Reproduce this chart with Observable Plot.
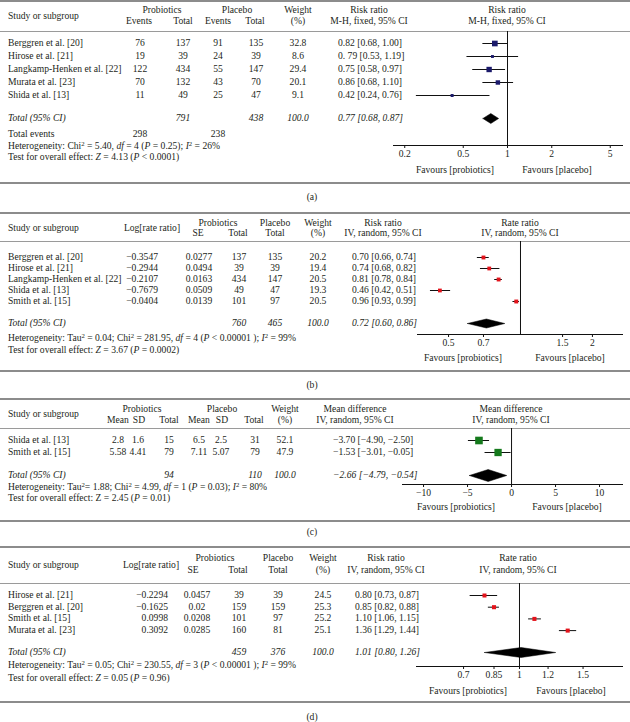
<!DOCTYPE html>
<html><head><meta charset="utf-8">
<script src="https://cdn.jsdelivr.net/npm/d3@7"></script>
<script src="https://cdn.jsdelivr.net/npm/@observablehq/plot@0.6"></script>
<style>
body{margin:0;background:#fff;}
#fig{position:relative;width:630px;height:722px;overflow:hidden;font-family:"Liberation Serif","DejaVu Serif",serif;font-size:9.6px;color:#231f20;}
.t{position:absolute;white-space:nowrap;line-height:1;}
.l{transform:translate(0,-50%);}
.c{transform:translate(-50%,-50%);}
.r{transform:translate(-100%,-50%);}
.i{font-style:italic;}
sup{font-size:0.7em;vertical-align:0.5em;line-height:0;}
.rule{position:absolute;left:0;width:630px;}
</style></head><body><div id="fig"></div>
<script>
// ---------- Panel (a) data ----------
const studiesA = ["Berggren et al. [20]","Hirose et al. [21]","Langkamp-Henken et al. [22]","Murata et al. [23]","Shida et al. [13]"];
const probEventsA = [76,19,122,70,11];
const probTotalA = [137,39,434,132,49];
const placEventsA = [91,24,55,43,25];
const placTotalA = [135,39,147,70,47];
const weightA = [32.8,8.6,29.4,20.1,9.1];
const rrA = [0.82,0.79,0.75,0.86,0.42];
const loA = [0.68,0.53,0.58,0.68,0.24];
const hiA = [1.00,1.19,0.97,1.10,0.76];
const ciTextA = ["0.82 [0.68, 1.00]","0. 79 [0.53, 1.19]","0.75 [0.58, 0.97]","0.86 [0.68, 1.10]","0.42 [0.24, 0.76]"];
const totalA = [0.77,0.68,0.87];
const ticksA = [0.2,0.5,1,2,5];

// ---------- Panel (b) data ----------
const studiesB = ["Berggren et al. [20]","Hirose et al. [21]","Langkamp-Henken et al. [22]","Shida et al. [13]","Smith et al. [15]"];
const logRRB = [-0.3547,-0.2944,-0.2107,-0.7679,-0.0404];
const seB = [0.0277,0.0494,0.0163,0.0509,0.0139];
const probTotalB = [137,39,434,49,101];
const placTotalB = [135,39,147,47,97];
const weightB = [20.2,19.4,20.5,19.3,20.5];
const rrB = [0.70,0.74,0.81,0.46,0.96];
const loB = [0.66,0.68,0.78,0.42,0.93];
const hiB = [0.74,0.82,0.84,0.51,0.99];
const totalB = [0.72,0.60,0.86];
const ticksB = [0.5,0.7,1.5,2];

// ---------- Panel (c) data ----------
const studiesC = ["Shida et al. [13]","Smith et al. [15]"];
const probMeanC = ["2.8","5.58"], probSDC = ["1.6","4.41"], probNC = [15,79];
const placMeanC = ["6.5","7.11"], placSDC = ["2.5","5.07"], placNC = [31,79];
const weightC = [52.1,47.9];
const mdC = [-3.70,-1.53];
const loC = [-4.90,-3.01];
const hiC = [-2.50,-0.05];
const totalC = [-2.66,-4.79,-0.54];
const ticksC = [-10,-5,0,5,10];

// ---------- Panel (d) data ----------
const studiesD = ["Hirose et al. [21]","Berggren et al. [20]","Smith et al. [15]","Murata et al. [23]"];
const logRRD = [-0.2294,-0.1625,0.0998,0.3092];
const seD = [0.0457,0.02,0.0208,0.0285];
const probTotalD = [39,159,101,160];
const placTotalD = [39,159,97,81];
const weightD = [24.5,25.3,25.2,25.1];
const rrD = [0.80,0.85,1.10,1.36];
const loD = [0.73,0.82,1.06,1.29];
const hiD = [0.87,0.88,1.15,1.44];
const totalD = [1.01,0.80,1.26];
const ticksD = [0.7,0.85,1,1.2,1.5];

// ---------- helpers ----------
const fig = document.getElementById("fig");
const FONT = '"Liberation Serif","DejaVu Serif",serif';
const m = v => String(v).replace("-", "\u2212");
const f2 = v => m(v.toFixed(2));
const ci = (e,l,h) => `${f2(e)} [${f2(l)}, ${f2(h)}]`;
function T(x, y, html, a = "c", extra = "") {
  const s = document.createElement("span");
  s.className = "t " + a + " " + extra;
  s.style.left = x + "px"; s.style.top = y + "px";
  s.innerHTML = html;
  fig.appendChild(s);
}
function rule(y, w, color) {
  const d = document.createElement("div");
  d.className = "rule";
  d.style.top = (y - w/2) + "px"; d.style.height = w + "px"; d.style.background = color;
  fig.appendChild(d);
}
function forest(o) {
  const H = o.axisY - o.headerY + 22;
  const r0 = o.rowY0 - o.headerY;
  const rows = o.est.map((e,i) => ({i, est: e, lo: o.lo[i], hi: o.hi[i], w: o.w[i]}));
  const ti = (o.totalY - o.rowY0) / o.step;
  const dh = o.dH / o.step;
  const [te, tl, th] = o.total;
  const diamond = [{x: tl, y: ti}, {x: te, y: ti - dh}, {x: th, y: ti}, {x: te, y: ti + dh}, {x: tl, y: ti}];
  const svg = Plot.plot({
    width: 630, height: H,
    marginLeft: o.x0, marginRight: 630 - o.x1, marginTop: 0, marginBottom: 22,
    x: {type: o.type, domain: o.domain, label: null},
    y: {domain: [0, 1], range: [r0, r0 + o.step], axis: null},
    r: {type: "sqrt", domain: [0, o.wMax], range: [0, o.rMax]},
    style: {background: "transparent", fontFamily: FONT, fontSize: "9.6px", color: "#231f20"},
    marks: [
      Plot.ruleX([o.nullV], {stroke: "#111", strokeWidth: 1}),
      Plot.ruleY(rows, {y: "i", x1: "lo", x2: "hi", stroke: "#111", strokeWidth: 1}),
      Plot.dot(rows, {x: "est", y: "i", r: "w", symbol: "square", fill: o.color}),
      Plot.line(diamond, {x: "x", y: "y", fill: "#000", stroke: "#000", strokeWidth: 0.5}),
      Plot.axisX({ticks: o.ticks, tickFormat: o.fmt, tickSize: 3, tickPadding: 2, stroke: "#111"}),
      Plot.frame({anchor: "bottom", stroke: "#111"})
    ]
  });
  svg.style.position = "absolute";
  svg.style.left = "0px";
  svg.style.top = o.headerY + "px";
  fig.appendChild(svg);
}
const thick = (y) => rule(y, 2, "#8c8c8c");
const thin = (y) => rule(y, 1, "#9a9a9a");

// ================= Panel (a) =================
thick(1); thin(31);
T(8,16,"Study or subgroup","l");
T(162,10,"Probiotics"); T(237,10,"Placebo"); T(298,10,"Weight"); T(369,10,"Risk ratio"); T(507,10,"Risk ratio");
T(139,21,"Events"); T(183,21,"Total"); T(218,21,"Events"); T(255,21,"Total"); T(298,21,"(%)");
T(369,21,"M-H, fixed, 95% CI"); T(507,21,"M-H, fixed, 95% CI");
studiesA.forEach((s,i) => {
  const y = 43 + 13*i;
  T(8,y,s,"l"); T(140,y,probEventsA[i]); T(183,y,probTotalA[i]); T(218,y,placEventsA[i]); T(256,y,placTotalA[i]);
  T(298,y,weightA[i].toFixed(1)); T(338,y,ciTextA[i],"l");
});
T(8,118,"Total (95% CI)","l","i"); T(183,118,d3.sum(probTotalA),"c","i"); T(256,118,d3.sum(placTotalA),"c","i");
T(298,118,"100.0","c","i"); T(338,118,ci(...totalA),"l","i");
T(8,134,"Total events","l"); T(140,134,d3.sum(probEventsA)); T(218,134,d3.sum(placEventsA));
T(8,146,"Heterogeneity: Chi<sup>2</sup> = 5.40, <i>df</i> = 4 (<i>P</i> = 0.25); <i>I</i><sup>2</sup> = 26%","l");
T(8,157,"Test for overall effect: <i>Z</i> = 4.13 (<i>P</i> &lt; 0.0001)","l");
T(455,170,"Favours [probiotics]"); T(557,170,"Favours [placebo]");
forest({headerY:31, axisY:145, rowY0:43, step:13, totalY:118, x0:393, x1:622, type:"log",
  domain:[0.1677,6.057], ticks:ticksA, fmt:d=>String(d), nullV:1, est:rrA, lo:loA, hi:hiA, w:weightA,
  wMax:32.8, rMax:3.2, color:"#1b1a6b", total:totalA, dH:5});
thick(183); T(312,197,"(a)");

// ================= Panel (b) =================
thick(213); thin(241);
T(8,228,"Study or subgroup","l"); T(152,228,"Log[rate ratio]");
T(218,223,"Probiotics"); T(275,223,"Placebo"); T(318,223,"Weight"); T(383,223,"Risk ratio"); T(520,223,"Rate ratio");
T(198,233,"SE"); T(238,233,"Total"); T(275,233,"Total"); T(318,233,"(%)");
T(383,233,"IV, random, 95% CI"); T(520,233,"IV, random, 95% CI");
studiesB.forEach((s,i) => {
  const y = 257 + 11*i;
  T(8,y,s,"l"); T(158,y,m(logRRB[i].toFixed(4)),"r"); T(199,y,seB[i].toFixed(4)); T(239,y,probTotalB[i]); T(275,y,placTotalB[i]);
  T(318,y,weightB[i].toFixed(1)); T(352,y,ci(rrB[i],loB[i],hiB[i]),"l");
});
T(8,323,"Total (95% CI)","l","i"); T(239,323,d3.sum(probTotalB),"c","i"); T(275,323,d3.sum(placTotalB),"c","i");
T(318,323,"100.0","c","i"); T(352,323,ci(...totalB),"l","i");
T(8,338,"Heterogeneity: Tau<sup>2</sup> = 0.04; Chi<sup>2</sup> = 281.95, <i>df</i> = 4 (<i>P</i> &lt; 0.00001 ); <i>I</i><sup>2</sup> = 99%","l");
T(8,350,"Test for overall effect: <i>Z</i> = 3.67 (<i>P</i> = 0.0002)","l");
T(463,358,"Favours [probiotics]"); T(570,358,"Favours [placebo]");
forest({headerY:241, axisY:334, rowY0:257, step:11, totalY:323, x0:417, x1:622, type:"log",
  domain:[0.3707,2.672], ticks:ticksB, fmt:d=>String(d), nullV:1, est:rrB, lo:loB, hi:hiB, w:weightB,
  wMax:20.5, rMax:2.2, color:"#e3131b", total:totalB, dH:4.5});
thick(371); T(312,385,"(b)");

// ================= Panel (c) =================
thick(399); thin(428);
T(8,414,"Study or subgroup","l");
T(142,409,"Probiotics"); T(222,409,"Placebo"); T(285,409,"Weight"); T(355,409,"Mean difference"); T(511,409,"Mean difference");
T(118,420,"Mean"); T(139,420,"SD"); T(169,420,"Total"); T(199,420,"Mean"); T(222,420,"SD"); T(254,420,"Total"); T(285,420,"(%)");
T(355,420,"IV, random, 95% CI"); T(511,420,"IV, random, 95% CI");
studiesC.forEach((s,i) => {
  const y = 440 + 12*i;
  T(8,y,s,"l"); T(118,y,probMeanC[i]); T(138,y,probSDC[i]); T(169,y,probNC[i]);
  T(199,y,placMeanC[i]); T(221,y,placSDC[i]); T(255,y,placNC[i]);
  T(285,y,weightC[i].toFixed(1)); T(333,y,ci(mdC[i],loC[i],hiC[i]),"l");
});
T(8,475,"Total (95% CI)","l","i"); T(169,475,d3.sum(probNC),"c","i"); T(255,475,d3.sum(placNC),"c","i");
T(285,475,"100.0","c","i"); T(333,475,ci(...totalC),"l","i");
T(8,487,"Heterogeneity: Tau<sup>2</sup>= 1.88; Chi<sup>2</sup> = 4.99, <i>df</i> = 1 (<i>P</i> = 0.03); <i>I</i><sup>2</sup> = 80%","l");
T(8,498,"Test for overall effect: Z = 2.45 (<i>P</i> = 0.01)","l");
T(456,507,"Favours [probiotics]"); T(567,507,"Favours [placebo]");
forest({headerY:428, axisY:484, rowY0:440, step:12, totalY:475, x0:402, x1:622, type:"linear",
  domain:[-12.39,12.61], ticks:ticksC, fmt:d=>m(d), nullV:0, est:mdC, lo:loC, hi:hiC, w:weightC,
  wMax:52.1, rMax:4.3, color:"#157a1c", total:totalC, dH:6});
thick(521); T(312,532,"(c)");

// ================= Panel (d) =================
thick(547); thin(583);
T(8,565,"Study or subgroup","l"); T(151,565,"Log[rate ratio]");
T(215,558,"Probiotics"); T(278,558,"Placebo"); T(323,558,"Weight"); T(386,558,"Risk ratio"); T(518,558,"Rate ratio");
T(193,570,"SE"); T(238,570,"Total"); T(278,570,"Total"); T(323,570,"(%)");
T(386,570,"IV, random, 95% CI"); T(518,570,"IV, random, 95% CI");
studiesD.forEach((s,i) => {
  const y = 595 + 11.7*i;
  T(8,y,s,"l"); T(168,y,m(logRRD[i].toFixed(4)),"r"); T(197,y,String(seD[i])); T(239,y,probTotalD[i]); T(278,y,placTotalD[i]);
  T(323,y,weightD[i].toFixed(1)); T(355,y,ci(rrD[i],loD[i],hiD[i]),"l");
});
T(8,652,"Total (95% CI)","l","i"); T(239,652,d3.sum(probTotalD),"c","i"); T(278,652,d3.sum(placTotalD),"c","i");
T(323,652,"100.0","c","i"); T(355,652,ci(...totalD),"l","i");
T(8,665,"Heterogeneity: Tau<sup>2</sup> = 0.05; Chi<sup>2</sup> = 230.55, <i>df</i> = 3 (<i>P</i> &lt; 0.00001 ); <i>I</i><sup>2</sup> = 99%","l");
T(8,678,"Test for overall effect: <i>Z</i> = 0.05 (<i>P</i> = 0.96)","l");
T(468,691,"Favours [probiotics]"); T(571,691,"Favours [placebo]");
forest({headerY:583, axisY:666, rowY0:595, step:11.7, totalY:652, x0:416, x1:622, type:"log",
  domain:[0.5185,1.929], ticks:ticksD, fmt:d=>String(d), nullV:1, est:rrD, lo:loD, hi:hiD, w:weightD,
  wMax:25.3, rMax:2.3, color:"#e3131b", total:totalD, dH:5});
thick(702); T(312,717,"(d)");
</script></body></html>
